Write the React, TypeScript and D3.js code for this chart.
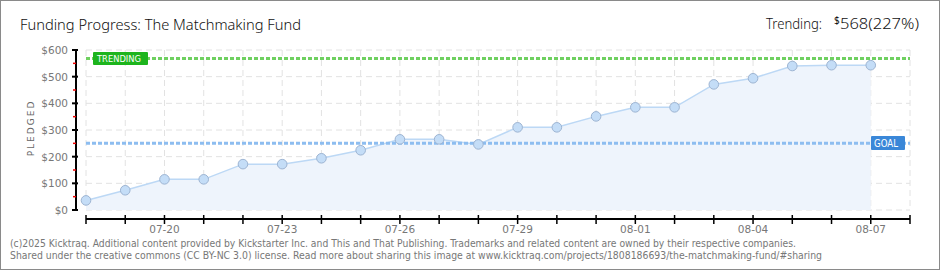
import React from "react";
import * as d3 from "d3";

const dates = ["07-18","07-19","07-20","07-21","07-22","07-23","07-24","07-25","07-26","07-27","07-28","07-29","07-30","07-31","08-01","08-02","08-03","08-04","08-05","08-06","08-07"];
const pledged = [36, 74, 115, 115, 172, 172, 194, 224, 265, 265, 246, 310, 310, 351, 385, 385, 471, 494, 540, 543, 543];
const axisDays = [...dates, "08-08"];
const labeledDays = ["07-20","07-23","07-26","07-29","08-01","08-04","08-07"];
const yTicks = [0, 100, 200, 300, 400, 500, 600];
const yMinor = [50, 150, 250, 350, 450, 550];
const goal = 250;
const trending = 568;
const title = "Funding Progress: The Matchmaking Fund";
const footer1 = "(c)2025 Kicktraq. Additional content provided by Kickstarter Inc. and This and That Publishing. Trademarks and related content are owned by their respective companies.";
const footer2 = "Shared under the creative commons (CC BY-NC 3.0) license. Read more about sharing this image at www.kicktraq.com/projects/1808186693/the-matchmaking-fund/#sharing";

export default function App() {
  const W = 940, H = 270;
  const x0 = 86, x1 = 910, yTop = 50, yBot = 210;
  const x = d3.scaleLinear().domain([0, axisDays.length - 1]).range([x0, x1]);
  const y = d3.scaleLinear().domain([0, 600]).range([yBot, yTop]);
  const pts = pledged.map((v, i) => [x(i), y(v)] as [number, number]);
  const line = d3.line()(pts) || "";
  const area = d3.area<[number, number]>().x(d => d[0]).y0(y(0)).y1(d => d[1])(pts) || "";
  const font = "'DejaVu Sans', sans-serif";
  const titleFont = "'Noto Sans', sans-serif";
  const axisY = 219;
  return (
    <div style={{ position: "fixed", left: 0, top: 0, width: W, height: H }}>
      <svg width={W} height={H} style={{ display: "block" }}>
        <rect x={0} y={0} width={W} height={H} fill="#fff" stroke="#8a8a8a" strokeWidth={2} />
        <text x={20} y={30} fontFamily={titleFont} fontSize={15} fontWeight={300} fill="#111" textLength={281} lengthAdjust="spacingAndGlyphs">{title}</text>
        <text x={766} y={29} fontFamily={titleFont} fontSize={15} fontWeight={300} fill="#111" textLength={56} lengthAdjust="spacingAndGlyphs">Trending:</text>
        <text x={834} y={24} fontFamily={titleFont} fontSize={10} fill="#111">$</text>
        <text x={840} y={29} fontFamily={titleFont} fontSize={15} fontWeight={300} fill="#111" textLength={79} lengthAdjust="spacingAndGlyphs">568(227%)</text>

        {/* grid */}
        {yTicks.map(t => (
          <line key={"hg" + t} x1={x0} x2={x1} y1={y(t)} y2={y(t)} stroke="#e2e2e2" strokeWidth={1} strokeDasharray="6 4" />
        ))}
        {axisDays.map((d, i) => (
          <line key={"vg" + d} x1={x(i)} x2={x(i)} y1={yTop} y2={yBot} stroke="#e2e2e2" strokeWidth={1} strokeDasharray="6 4" />
        ))}

        {/* area + line */}
        <path d={area} fill="#eef4fc" />
        <path d={line} fill="none" stroke="#bcd8f5" strokeWidth={1.5} />

        {/* goal & trending lines */}
        <line x1={x0} x2={x1} y1={y(goal)} y2={y(goal)} stroke="#8dbdf0" strokeWidth={3} strokeDasharray="4 2" />
        <line x1={x0} x2={x1} y1={y(trending)} y2={y(trending)} stroke="#6fd060" strokeWidth={3} strokeDasharray="4 2" />

        {/* points */}
        {pts.map((p, i) => (
          <circle key={"pt" + i} cx={p[0]} cy={p[1]} r={4.8} fill="#c4ddf7" stroke="#9db4d2" strokeWidth={1} />
        ))}

        {/* labels */}
        <rect x={93} y={52} width={55} height={13} rx={1} fill="#1db41d" />
        <text x={97} y={62} fontFamily={font} fontSize={9} fill="#fff" textLength={44} lengthAdjust="spacingAndGlyphs">TRENDING</text>
        <rect x={871} y={136} width={34} height={14} rx={1} fill="#3a87d8" />
        <text x={874} y={147} fontFamily={font} fontSize={10} fill="#fff" textLength={24} lengthAdjust="spacingAndGlyphs">GOAL</text>

        {/* y axis */}
        <line x1={76} x2={76} y1={yTop} y2={yBot} stroke="#000" strokeWidth={2} />
        {yTicks.map(t => (
          <g key={"yt" + t}>
            <line x1={72} x2={78} y1={y(t)} y2={y(t)} stroke="#000" strokeWidth={2} />
            <text x={68} y={y(t) + 4} textAnchor="end" fontFamily={font} fontSize={10.5} fill="#777">{"$" + t}</text>
          </g>
        ))}
        {yMinor.map(t => (
          <line key={"ym" + t} x1={73} x2={76} y1={y(t)} y2={y(t)} stroke="#e00" strokeWidth={1.5} />
        ))}
        <text transform={`translate(34,128) rotate(-90)`} textAnchor="middle" fontFamily={font} fontSize={9} fill="#666" letterSpacing={2}>PLEDGED</text>

        {/* x axis */}
        <line x1={x0} x2={x1} y1={axisY} y2={axisY} stroke="#000" strokeWidth={2} />
        {axisDays.map((d, i) => (
          <line key={"xt" + d} x1={x(i)} x2={x(i)} y1={axisY - 4} y2={axisY + 5} stroke="#000" strokeWidth={1.5} />
        ))}
        {axisDays.map((d, i) => labeledDays.includes(d) ? (
          <text key={"xl" + d} x={x(i)} y={233} textAnchor="middle" fontFamily={font} fontSize={10.5} fill="#777">{d}</text>
        ) : null)}

        {/* footer */}
        <text x={10} y={247} fontFamily={font} fontSize={10.5} fill="#777" textLength={786} lengthAdjust="spacingAndGlyphs">{footer1}</text>
        <text x={10} y={259} fontFamily={font} fontSize={10.5} fill="#777" textLength={812} lengthAdjust="spacingAndGlyphs">{footer2}</text>
      </svg>
    </div>
  );
}
